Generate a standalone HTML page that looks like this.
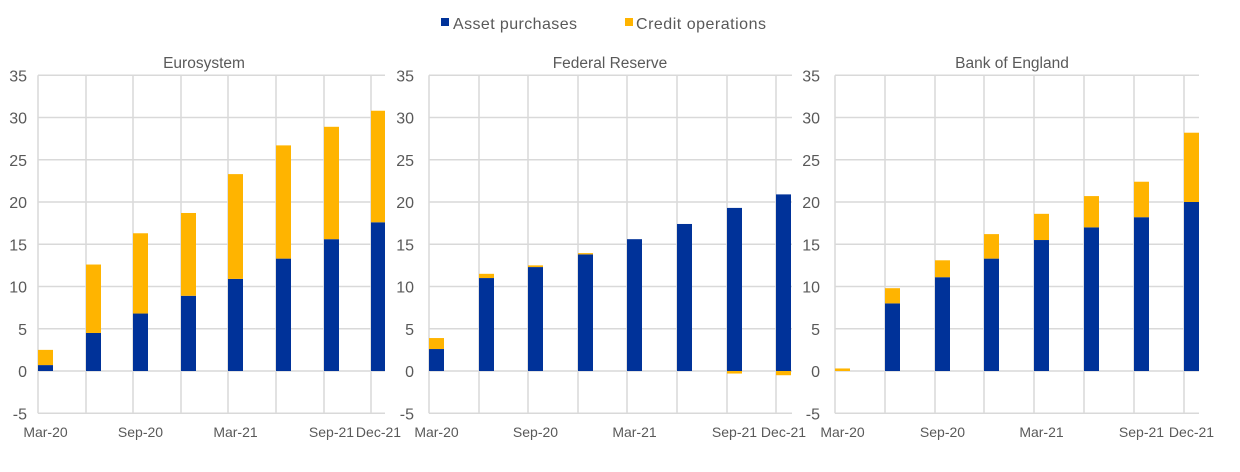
<!DOCTYPE html>
<html><head><meta charset="utf-8"><style>
html,body{margin:0;padding:0;background:#fff;}
svg{display:block;font-family:"Liberation Sans",Arial,sans-serif;}
text{fill:#595959;font-size:14px;}
</style></head><body>
<svg id="s" width="1240" height="472" viewBox="0 0 1240 472" xmlns="http://www.w3.org/2000/svg">
<rect x="0" y="0" width="1240" height="472" fill="#fff"/>
<g id="grid" stroke="#d9d9d9" stroke-width="1.5"></g>
<g id="bars"></g>
<rect x="441" y="18" width="8" height="8" fill="#003299"/>
<text x="453" y="29" style="font-size:16px" textLength="124">Asset purchases</text>
<rect x="625" y="18" width="8" height="8" fill="#ffb400"/>
<text x="636" y="29" style="font-size:16px" textLength="130">Credit operations</text>
<text x="204" y="68" text-anchor="middle" style="font-size:15.5px">Eurosystem</text>
<text x="610" y="68" text-anchor="middle" style="font-size:15.5px">Federal Reserve</text>
<text x="1012" y="68" text-anchor="middle" style="font-size:15.5px">Bank of England</text>
<g id="labels"></g>
</svg>
<script>
var NS="http://www.w3.org/2000/svg";
function el(p,t,a,txt){var e=document.createElementNS(NS,t);for(var k in a)e.setAttribute(k,a[k]);if(txt!==undefined)e.textContent=txt;p.appendChild(e);return e;}
var grid=document.getElementById('grid'),bars=document.getElementById('bars'),lab=document.getElementById('labels');
function Y(v){return 371-8.45*v;}
var panels=[
 {l:38,r:385,step:47.6,lx:27,ap:[0.7,4.5,6.8,8.9,10.9,13.3,15.6,17.6],co:[1.8,8.1,9.5,9.8,12.4,13.4,13.3,13.2]},
 {l:429,r:792,step:49.6,lx:414,ap:[2.6,11.0,12.3,13.8,15.6,17.4,19.3,20.9],co:[1.3,0.5,0.2,0.15,0,0,-0.3,-0.5]},
 {l:835,r:1199,step:49.8,lx:820,ap:[0,8.0,11.1,13.3,15.5,17.0,18.2,20.0],co:[0.3,1.8,2.0,2.9,3.1,3.7,4.2,8.2]}
];
var xl=["Mar-20","","Sep-20","","Mar-21","","Sep-21","Dec-21"];
panels.forEach(function(p){
 for(var v=-5;v<=35;v+=5){el(grid,'line',{x1:p.l,x2:p.r,y1:Y(v),y2:Y(v)});
  el(lab,'text',{x:p.lx,y:Y(v)+6,'text-anchor':'end',style:'font-size:16px'},String(v));}
 for(var i=0;i<8;i++){var x=Math.round(p.l+p.step*i);
  el(grid,'line',{x1:x,x2:x,y1:Y(35),y2:Y(-5)});
  var w=Math.min(15,p.r-x);
  var a=p.ap[i],c=p.co[i];
  if(a>0)el(bars,'rect',{x:x,y:Y(a),width:w,height:8.45*a,fill:'#003299'});
  if(c>0)el(bars,'rect',{x:x,y:Y(a+c),width:w,height:8.45*c,fill:'#ffb400'});
  else if(c<0)el(bars,'rect',{x:x,y:Y(0),width:w,height:Math.max(2,-8.45*c),fill:'#ffb400'});
  if(xl[i])el(lab,'text',{x:x+7.5,y:437,'text-anchor':'middle'},xl[i]);
 }
});
</script>
</body></html>
